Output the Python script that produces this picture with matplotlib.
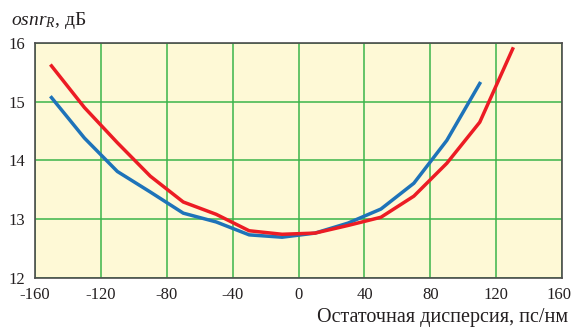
import matplotlib
matplotlib.use("Agg")
import matplotlib.pyplot as plt
from matplotlib.transforms import ScaledTranslation

# residual dispersion, ps/nm
disp_red = [-150, -130, -110, -90, -70, -50, -30, -10, 10, 30, 50, 70, 90, 110, 130]
osnr_red = [15.61, 14.90, 14.30, 13.73, 13.29, 13.08, 12.80, 12.74, 12.76, 12.89, 13.03, 13.39, 13.95, 14.65, 15.90]

disp_blue = [-150, -130, -110, -90, -70, -50, -30, -10, 10, 30, 50, 70, 90, 110]
osnr_blue = [15.07, 14.38, 13.81, 13.46, 13.10, 12.95, 12.73, 12.69, 12.76, 12.93, 13.17, 13.61, 14.34, 15.31]

x_ticks = [-160, -120, -80, -40, 0, 40, 80, 120, 160]
y_ticks = [12, 13, 14, 15, 16]

plt.rcParams["font.family"] = ["Liberation Serif", "DejaVu Serif"]
plt.rcParams["mathtext.fontset"] = "custom"
plt.rcParams["mathtext.rm"] = "Liberation Serif"
plt.rcParams["mathtext.it"] = "Liberation Serif:italic"

fig = plt.figure(figsize=(5.73, 3.27), dpi=100)
ax = fig.add_axes([0.0611, 0.1508, 0.9199, 0.7177])
ax.set_facecolor("#FEF9D6")

ax.plot(disp_blue, osnr_blue, color="#1E73B9", lw=2.5, zorder=3)
ax.plot(disp_red, osnr_red, color="#EC1C24", lw=2.5, zorder=4)

ax.set_xlim(-160, 160)
ax.set_ylim(12, 16)
ax.set_xticks(x_ticks)
ax.set_xticklabels([str(v) for v in x_ticks])
ax.set_yticks(y_ticks)
ax.grid(True, color="#3BB54A", lw=1.1)
ax.set_axisbelow(True)
ax.tick_params(length=0, labelsize=12, pad=7, colors="#231F20")
for sp in ax.spines.values():
    sp.set_color("#4D4D4D")
    sp.set_linewidth(1.2)

# keep the last x label inside the canvas
last = ax.get_xticklabels()[-1]
last.set_transform(last.get_transform() + ScaledTranslation(-3 / 100, 0, fig.dpi_scale_trans))

fig.text(0.992, 0.015, "Остаточная дисперсия, пс/нм", ha="right", va="baseline",
         fontsize=14.5, color="#231F20")
fig.text(0.019, 0.924, r"$osnr_R$, дБ", ha="left", va="baseline",
         fontsize=14, color="#231F20")

fig.savefig("out.png", dpi=100)
